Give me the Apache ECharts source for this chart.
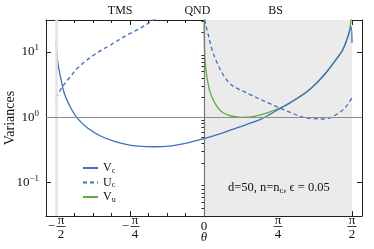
<!DOCTYPE html>
<html><head><meta charset="utf-8">
<script src="https://cdn.jsdelivr.net/npm/echarts@6/dist/echarts.min.js"></script>
<style>html,body{margin:0;padding:0;background:#fff}#c{width:374px;height:249px}</style>
</head><body><div id="c"></div>
<script>
// ---- data ----
const thetaVc = [-1.571,-1.562,-1.554,-1.535,-1.518,-1.483,-1.43,-1.352,-1.236,-1.093,-0.952,-0.804,-0.7,-0.528,-0.35,-0.174,0,0.15,0.3,0.45,0.6,0.7,0.81,0.9,1.0,1.1,1.2,1.3,1.4,1.465,1.5,1.535,1.561,1.571];
const Vc = [13.8,10.0,7.24,5.01,3.80,2.34,1.55,1.00,0.685,0.513,0.429,0.380,0.363,0.355,0.367,0.407,0.473,0.550,0.653,0.776,0.933,1.109,1.374,1.622,1.995,2.512,3.39,4.898,7.586,10.23,13.18,18.41,24.55,13.8];
const thetaUcLeft = [-1.571,-1.5,-1.42,-1.342,-1.165,-0.987,-0.811,-0.705,-0.546,-0.5];
const UcLeft = [1.98,2.98,4.17,5.69,9.10,12.94,18.41,21.98,30.2,33.9];
const thetaUcRight = [0.004,0.01,0.025,0.046,0.081,0.134,0.205,0.293,0.4,0.5,0.598,0.7,0.81,0.95,1.057,1.164,1.27,1.35,1.412,1.47,1.518,1.571];
const UcRight = [40.0,30.9,24.0,18.2,11.4,7.08,4.45,3.13,2.57,2.19,1.884,1.62,1.38,1.135,1.00,0.953,0.944,1.00,1.12,1.29,1.53,1.98];
const thetaVu = [0.0005,0.003,0.01,0.028,0.064,0.117,0.187,0.258,0.33,0.4,0.45,0.5,0.6,0.7,0.81,0.9,1.0,1.1,1.2,1.3,1.4,1.465,1.5,1.535,1.555,1.565];
const Vu = [40.0,18.2,7.94,4.45,2.45,1.64,1.22,1.084,1.023,1.0,1.004,1.02,1.09,1.216,1.396,1.641,2.018,2.541,3.43,4.955,7.674,10.47,13.49,19.05,26.3,35.5];

const xMajorTicks = [-Math.PI/2,-Math.PI/4,0,Math.PI/4,Math.PI/2];
const xMajorLabels = [['−','π','2'],['−','π','4'],['','0',''],['','π','4'],['','π','2']];
const xMinorTicks = [-7,-6,-5,-3,-2,-1,1,2,3,5,6,7].map(k=>k*Math.PI/16);
const topLabelPos = [-0.89,-0.07,0.76];
const topLabels = ['TMS','QND','BS'];
const yMajorTicks = [0.1,1,10];
const yMinorTicks = [0.04,0.05,0.06,0.07,0.08,0.09,0.2,0.3,0.4,0.5,0.6,0.7,0.8,0.9,2,3,4,5,6,7,8,9,20,30];
const legendNames = ['Vc','Uc','Vu'];

const F = 'Liberation Serif';
const BLUE = '#3f6fbf', GREEN = '#5cae45', FRAME = '#222';
const zip = (a,b)=>a.map((x,i)=>[x,b[i]]);
const XMIN=-1.677, XMAX=1.677, YMIN=Math.pow(10,-1.51), YMAX=Math.pow(10,1.49);

function xAxisBase(pos){
  return {type:'value',position:pos,min:XMIN,max:XMAX,splitLine:{show:false},
    axisLine:{show:false,lineStyle:{color:FRAME,width:1}},axisLabel:{show:false},axisTick:{show:false}};
}
const xAxes = [
  Object.assign(xAxisBase('bottom'),{axisLine:{show:true,onZero:false,lineStyle:{color:FRAME,width:1}},
    axisTick:{show:true,inside:true,length:3,customValues:xMinorTicks,lineStyle:{color:FRAME}}}),
  Object.assign(xAxisBase('bottom'),{
    axisTick:{show:true,inside:true,length:5,customValues:xMajorTicks,lineStyle:{color:FRAME}},
    name:'θ',nameLocation:'middle',nameGap:15,nameMoveOverlap:false,
    nameTextStyle:{fontFamily:F,fontSize:13,fontStyle:'italic',color:'#111'},
    axisLabel:{show:true,customValues:xMajorTicks,margin:1,color:'#111',
      formatter:function(v){
        let i=0,b=1e9; xMajorTicks.forEach((t,k)=>{if(Math.abs(t-v)<b){b=Math.abs(t-v);i=k;}});
        const L=xMajorLabels[i];
        if(L[1]==='0') return '{e| }\n{z|0}\n{e2| }';
        if(L[0]) return '{sp| }{n|'+L[1]+'}\n{mi|'+L[0]+'}{bar| }\n{sp2| }{d|'+L[2]+'}';
        return '{n|'+L[1]+'}\n{bar| }\n{d|'+L[2]+'}';
      },
      rich:{
        n:{fontFamily:F,fontSize:13,width:9,align:'center',lineHeight:8,color:'#111'},
        sp:{width:10,lineHeight:8,fontSize:12},
        mi:{fontFamily:F,fontSize:13,width:10,align:'center',lineHeight:3,color:'#111'},
        bar:{width:9,height:0.8,backgroundColor:'#111',lineHeight:3,fontSize:1},
        d:{fontFamily:F,fontSize:13,width:9,align:'center',lineHeight:14,color:'#111'},
        sp2:{width:10,lineHeight:14,fontSize:12},
        e:{lineHeight:8,fontSize:12},
        z:{fontFamily:F,fontSize:13,lineHeight:3,color:'#111'},
        e2:{lineHeight:14,fontSize:12}
      }}}),
  Object.assign(xAxisBase('top'),{axisLine:{show:true,onZero:false,lineStyle:{color:FRAME,width:1}},
    axisTick:{show:true,inside:true,length:3,customValues:xMinorTicks,lineStyle:{color:FRAME}}}),
  Object.assign(xAxisBase('top'),{
    axisTick:{show:true,inside:true,length:5,customValues:xMajorTicks,lineStyle:{color:FRAME}},
    axisLabel:{show:true,customValues:topLabelPos,margin:3,fontFamily:F,fontSize:12,color:'#111',
      formatter:function(v){let i=0,b=1e9; topLabelPos.forEach((t,k)=>{if(Math.abs(t-v)<b){b=Math.abs(t-v);i=k;}}); return topLabels[i];}}})
];

function yAxisBase(pos){
  return {type:'log',logBase:10,position:pos,min:YMIN,max:YMAX,splitLine:{show:false},
    axisLine:{show:false,lineStyle:{color:FRAME,width:1}},axisLabel:{show:false},axisTick:{show:false}};
}
const yLabelFmt = function(v){
  const p=Math.round(Math.log10(v));
  return '{b|10}{s|'+(p<0?'−'+(-p):p)+'}';
};
const yAxes = [
  Object.assign(yAxisBase('left'),{axisLine:{show:true,onZero:false,lineStyle:{color:FRAME,width:1}},
    axisTick:{show:true,inside:true,length:5,customValues:yMajorTicks,lineStyle:{color:FRAME}},
    name:'Variances',nameLocation:'middle',nameGap:29,nameMoveOverlap:false,
    nameTextStyle:{fontFamily:F,fontSize:14,color:'#111'},
    axisLabel:{show:true,customValues:yMajorTicks,margin:7,formatter:yLabelFmt,
      rich:{b:{fontFamily:F,fontSize:13,color:'#111'},s:{fontFamily:F,fontSize:9,color:'#111',padding:[0,0,8,0]}}}}),
  Object.assign(yAxisBase('left'),{axisTick:{show:true,inside:true,length:2.5,customValues:yMinorTicks,lineStyle:{color:FRAME}}}),
  Object.assign(yAxisBase('right'),{axisLine:{show:true,onZero:false,lineStyle:{color:FRAME,width:1}},
    axisTick:{show:true,inside:true,length:5,customValues:yMajorTicks,lineStyle:{color:FRAME}}}),
  Object.assign(yAxisBase('right'),{axisTick:{show:true,inside:true,length:2.5,customValues:yMinorTicks,lineStyle:{color:FRAME}}})
];

const lineCommon = {type:'line',xAxisIndex:0,yAxisIndex:0,symbol:'none',smooth:0.35,clip:true,silent:true,animation:false};
const option = {
  animation:false,
  grid:{left:46,right:12,top:20,bottom:33,containLabel:false,outerBoundsMode:'none'},
  xAxis:xAxes, yAxis:yAxes,
  title:{text:'{t|d=50, n=n}{s|c}{t|, ϵ = 0.05}',left:223,top:176,
    textStyle:{fontWeight:'normal',rich:{t:{fontFamily:F,fontSize:12.5,fontWeight:'normal',color:'#111'},s:{fontFamily:F,fontSize:8.5,fontWeight:'normal',color:'#111',padding:[5,0,0,0]}}}},
  legend:{orient:'vertical',left:77,top:157,itemWidth:15,itemHeight:8,itemGap:2,itemStyle:{opacity:0},
    data:legendNames,
    formatter:function(n){return '{v|'+n[0]+'}{s|'+n[1]+'}';},
    textStyle:{rich:{v:{fontFamily:F,fontSize:12,color:'#111'},s:{fontFamily:F,fontSize:8,color:'#111',padding:[5,0,0,0]}}}},
  series:[
    {type:'line',data:[],z:1,silent:true,
      markArea:{silent:true,itemStyle:{color:'#ebebeb'},data:[[{xAxis:0},{xAxis:Math.PI/2}]]},
      markLine:{silent:true,symbol:'none',label:{show:false},animation:false,data:[
        {xAxis:-Math.PI/2,lineStyle:{color:'#e2e2e2',width:2.5,type:'solid'}},
        {yAxis:1,lineStyle:{color:'#8c8c8c',width:1,type:'solid'}},
        {xAxis:0,lineStyle:{color:'#777',width:1.2,type:'solid'}}
      ]}},
    Object.assign({},lineCommon,{name:'Vu',data:zip(thetaVu,Vu),z:3,lineStyle:{color:GREEN,width:1.3},itemStyle:{color:GREEN}}),
    Object.assign({},lineCommon,{name:'Uc',data:zip(thetaUcLeft,UcLeft),z:3,lineStyle:{color:BLUE,width:1.3,type:[4,3]},itemStyle:{color:BLUE}}),
    Object.assign({},lineCommon,{name:'Uc',data:zip(thetaUcRight,UcRight),z:3,lineStyle:{color:BLUE,width:1.3,type:[4,3]},itemStyle:{color:BLUE}}),
    Object.assign({},lineCommon,{name:'Vc',data:zip(thetaVc,Vc),z:4,lineStyle:{color:BLUE,width:1.3},itemStyle:{color:BLUE}})
  ]
};
const chart = echarts.init(document.getElementById('c'),null,{renderer:'canvas'});
chart.setOption(option);
</script></body></html>
